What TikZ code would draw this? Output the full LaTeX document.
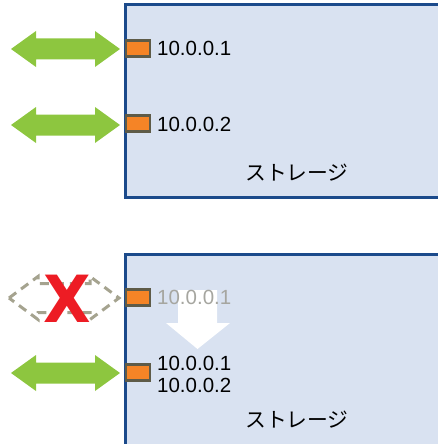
\documentclass[tikz,border=0pt]{standalone}
\usepackage{fontspec}
\setmainfont{Liberation Sans}
\newfontfamily\jpfont{Noto Sans CJK JP}
\newfontfamily\markfont{DejaVu Sans}
\usetikzlibrary{positioning}
\definecolor{boxfill}{HTML}{D9E2F1}
\definecolor{boxline}{HTML}{1B4A8B}
\definecolor{portfill}{HTML}{F58426}
\definecolor{portline}{HTML}{5E5B48}
\definecolor{linkcol}{HTML}{8DC63F}
\definecolor{downcol}{HTML}{A5A38F}
\definecolor{failcol}{HTML}{ED1C24}
\definecolor{oldaddr}{HTML}{A6A6A0}
\tikzstyle{storage}=[draw=boxline,fill=boxfill,line width=3]
\tikzstyle{port}=[draw=portline,fill=portfill,line width=2.2,minimum width=24,minimum height=16,inner sep=0]
\tikzstyle{addr}=[anchor=west,inner sep=0,font=\fontsize{20.5}{22}\selectfont]
\tikzstyle{label}=[inner sep=0,font=\jpfont\fontsize{20.8}{22}\selectfont]
\tikzstyle{link}=[fill=linkcol]
\tikzstyle{down link}=[draw=downcol,line width=3,dash pattern=on 9 off 6]
% DOUBLE ARROW: [style] left, right, mid y, head half, shaft half, head length
\newcommand{\biarrow}[7][]{%
  \path[#1] (#2,#4) -- (#2+#7,#4-#5) -- (#2+#7,#4-#6) -- (#3-#7,#4-#6)
    -- (#3-#7,#4-#5) -- (#3,#4) -- (#3-#7,#4+#5) -- (#3-#7,#4+#6)
    -- (#2+#7,#4+#6) -- (#2+#7,#4+#5) -- cycle;}

\begin{document}
\begin{tikzpicture}[x=1pt,y=-1pt]
  \useasboundingbox (0,0) rectangle (437,444);

  % BEFORE
  \draw[storage] (125.5,5) rectangle (445,197);
  \node[port] (p1) at (138,48.5) {};
  \node[port] (p2) at (138,123.5) {};
  \node[addr] (a1) at (157,48) {10.0.0.1};
  \node[addr] (a2) at (157,124) {10.0.0.2};
  \node[label] (s1) at (297,173) {ストレージ};
  \biarrow[link]{11}{120}{49}{18}{10.5}{25}
  \biarrow[link]{11}{120}{125}{18}{10.5}{25}

  % AFTER
  \draw[storage] (125.5,254) rectangle (445,455);
  \fill[white] (178,290) -- (217,290) -- (217,323) -- (230,323)
    -- (197.5,349) -- (166,323) -- (178,323) -- cycle; % MOVE
  \node[port] (p3) at (138,297.5) {};
  \node[port] (p4) at (138,372.5) {};
  \node[addr,text=oldaddr] (a3) at (157,297) {10.0.0.1};
  \node[addr] (a4) at (157,363) {10.0.0.1};
  \node[addr] (a5) at (157,385) {10.0.0.2};
  \node[label] (s2) at (297,420) {ストレージ};
  \biarrow[down link]{9}{119}{298}{21.5}{14.5}{29}
  \biarrow[link]{11}{120}{373}{18}{10.5}{25}
  \node[inner sep=0,text=failcol,font=\markfont\bfseries\fontsize{65}{65}\selectfont,xscale=0.95] (x) at (67,299) {X};
\end{tikzpicture}
\end{document}
